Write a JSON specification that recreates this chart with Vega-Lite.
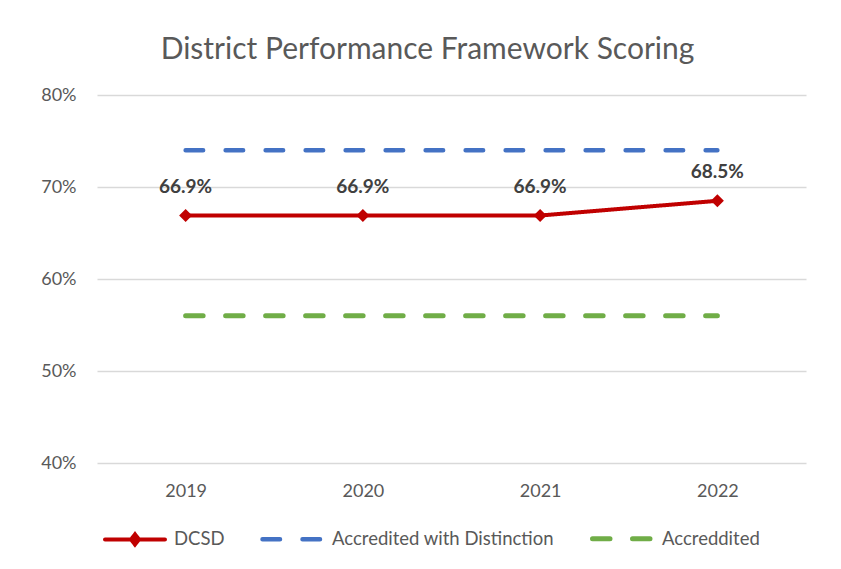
{
  "$schema": "https://vega.github.io/schema/vega-lite/v6.json",
  "width": 709,
  "height": 368,
  "autosize": {"type": "none"},
  "padding": {"left": 97, "top": 95, "right": 35, "bottom": 106},
  "background": "white",
  "title": {
    "text": "District Performance Framework Scoring",
    "anchor": "middle",
    "frame": "group",
    "dx": -24,
    "offset": 21,
    "fontSize": 30,
    "font": "Lato",
    "fontWeight": "normal",
    "color": "#595959"
  },
  "data": {
    "values": [
      {"series": "DCSD", "year": "2019", "value": 0.669},
      {"series": "DCSD", "year": "2020", "value": 0.669},
      {"series": "DCSD", "year": "2021", "value": 0.669},
      {"series": "DCSD", "year": "2022", "value": 0.685},
      {"series": "Accredited with Distinction", "year": "2019", "value": 0.74},
      {"series": "Accredited with Distinction", "year": "2020", "value": 0.74},
      {"series": "Accredited with Distinction", "year": "2021", "value": 0.74},
      {"series": "Accredited with Distinction", "year": "2022", "value": 0.74},
      {"series": "Accreddited", "year": "2019", "value": 0.56},
      {"series": "Accreddited", "year": "2020", "value": 0.56},
      {"series": "Accreddited", "year": "2021", "value": 0.56},
      {"series": "Accreddited", "year": "2022", "value": 0.56}
    ]
  },
  "encoding": {
    "x": {
      "field": "year",
      "type": "ordinal",
      "scale": {"padding": 0.5},
      "axis": {
        "title": null,
        "labelAngle": 0,
        "domain": false,
        "ticks": false,
        "grid": false,
        "labelPadding": 19,
        "labelFontSize": 18,
        "labelFont": "Lato",
        "labelColor": "#595959"
      }
    },
    "y": {
      "field": "value",
      "type": "quantitative",
      "scale": {"domain": [0.4, 0.8], "nice": false, "zero": false},
      "axis": {
        "title": null,
        "values": [0.4, 0.5, 0.6, 0.7, 0.8],
        "format": ".0%",
        "domain": false,
        "ticks": false,
        "labelPadding": 21,
        "labelFontSize": 18,
        "labelFont": "Lato",
        "labelColor": "#595959",
        "gridColor": "#d9d9d9",
        "gridWidth": 1.5
      }
    }
  },
  "layer": [
    {
      "mark": {"type": "line", "strokeCap": "round"},
      "encoding": {
        "color": {
          "field": "series",
          "type": "nominal",
          "scale": {
            "domain": ["DCSD", "Accredited with Distinction", "Accreddited"],
            "range": ["#c00000", "#4472c4", "#70ad47"]
          },
          "legend": {
            "title": null,
            "orient": "none",
            "direction": "horizontal",
            "legendX": 6,
            "legendY": 411,
            "symbolType": "stroke",
            "symbolSize": 3600,
            "symbolStrokeWidth": 5,
            "labelFontSize": 18.5,
            "labelFont": "Lato",
            "labelColor": "#595959",
            "labelOffset": 7,
            "labelLimit": 400,
            "columnPadding": 28,
            "encode": {
              "symbols": {
                "update": {
                  "shape": {"signal": "datum.value === 'DCSD' ? 'M-1,0L1,0M0,-0.17L0.13,0L0,0.17L-0.13,0Z' : 'M0,-0.17M0,0.17M-1,0L1,0'"},
                  "fill": {"signal": "datum.value === 'DCSD' ? '#c00000' : 'transparent'"},
                  "strokeCap": {"value": "round"}
                }
              }
            }
          }
        },
        "strokeDash": {
          "field": "series",
          "type": "nominal",
          "scale": {
            "domain": ["DCSD", "Accredited with Distinction", "Accreddited"],
            "range": [[1, 0], [17.5, 22.5], [17.5, 22.5]]
          },
          "legend": null
        },
        "strokeWidth": {
          "field": "series",
          "type": "nominal",
          "scale": {
            "domain": ["DCSD", "Accredited with Distinction", "Accreddited"],
            "range": [4, 5, 5]
          },
          "legend": null
        }
      }
    },
    {
      "transform": [{"filter": "datum.series === 'DCSD'"}],
      "mark": {"type": "point", "shape": "diamond", "filled": true, "size": 170, "color": "#c00000", "opacity": 1}
    },
    {
      "transform": [{"filter": "datum.series === 'DCSD'"}],
      "mark": {"type": "text", "dy": -29, "fontWeight": "bold", "fontSize": 19, "font": "Lato", "color": "#404040"},
      "encoding": {"text": {"field": "value", "type": "quantitative", "format": ".1%"}}
    }
  ],
  "config": {"view": {"stroke": null}}
}
